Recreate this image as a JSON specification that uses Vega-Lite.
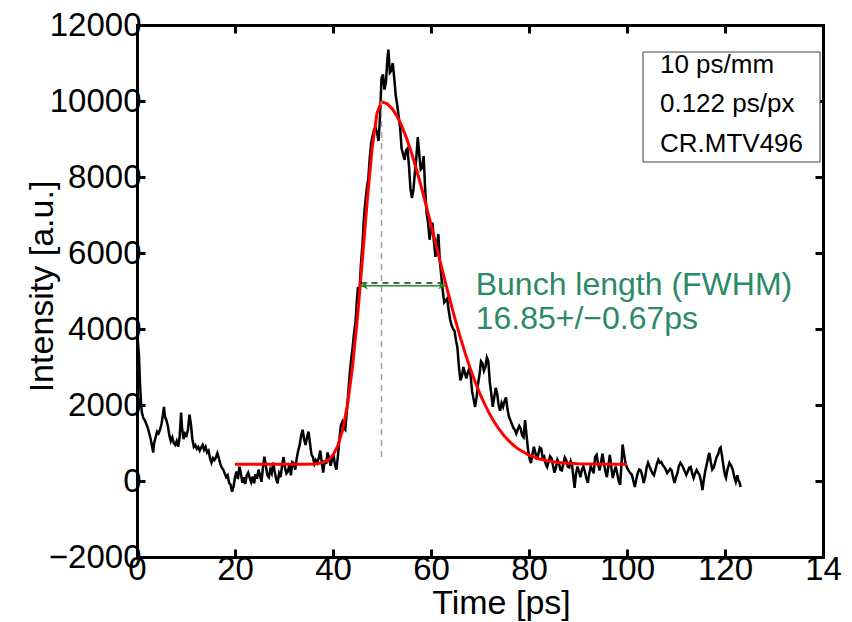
{
  "$schema": "https://vega.github.io/schema/vega-lite/v6.json",
  "width": 686,
  "height": 532,
  "autosize": {"type": "none"},
  "padding": {"left": 137, "top": 25, "right": 29, "bottom": 65},
  "background": "white",
  "config": {
    "view": {"stroke": null},
    "font": "Liberation Sans",
    "axis": {
      "labelFont": "Liberation Sans",
      "titleFont": "Liberation Sans",
      "labelColor": "black",
      "titleColor": "black",
      "domainColor": "black",
      "tickColor": "black",
      "grid": false,
      "domainWidth": 3,
      "domainCap": "square",
      "tickWidth": 3,
      "tickSize": -8,
      "labelFontSize": 33,
      "titleFontSize": 34,
      "titleFontWeight": "normal",
      "labelOverlap": false,
      "labelFlush": false
    }
  },
  "datasets": {
    "trace": [
      {"t":0,"I":3700},{"t":0.2,"I":3650},{"t":0.4,"I":3300},{"t":0.6,"I":2600},{"t":0.8,"I":2100},{"t":1.0,"I":1800},{"t":1.3,"I":1650},{"t":1.6,"I":1600},{"t":1.9,"I":1500},{"t":2.2,"I":1400},{"t":2.5,"I":1250},{"t":2.8,"I":1100},{"t":3.1,"I":900},{"t":3.3,"I":750},{"t":3.5,"I":1000},{"t":3.8,"I":1150},{"t":4.1,"I":1300},{"t":4.4,"I":1250},{"t":4.7,"I":1350},{"t":5.0,"I":1500},{"t":5.3,"I":1750},{"t":5.5,"I":1950},{"t":5.7,"I":1700},{"t":6.0,"I":1600},{"t":6.3,"I":1450},{"t":6.6,"I":1200},{"t":6.9,"I":1050},{"t":7.2,"I":1150},{"t":7.5,"I":1000},{"t":7.8,"I":950},{"t":8.1,"I":1050},{"t":8.4,"I":900},{"t":8.7,"I":1150},{"t":9.0,"I":1800},{"t":9.2,"I":1400},{"t":9.5,"I":1100},{"t":9.8,"I":1250},{"t":10.1,"I":1200},{"t":10.4,"I":1350},{"t":10.7,"I":1750},{"t":11.0,"I":1500},{"t":11.3,"I":1100},{"t":11.6,"I":900},{"t":11.9,"I":950},{"t":12.2,"I":850},{"t":12.5,"I":900},{"t":12.8,"I":800},{"t":13.1,"I":880},{"t":13.4,"I":950},{"t":13.7,"I":820},{"t":14.0,"I":900},{"t":14.3,"I":750},{"t":14.6,"I":800},{"t":14.9,"I":600},{"t":15.2,"I":480},{"t":15.5,"I":600},{"t":15.8,"I":550},{"t":16.1,"I":620},{"t":16.4,"I":730},{"t":16.7,"I":600},{"t":17.0,"I":450},{"t":17.3,"I":350},{"t":17.6,"I":300},{"t":17.9,"I":200},{"t":18.2,"I":100},{"t":18.5,"I":150},{"t":18.8,"I":-50},{"t":19.1,"I":-100},{"t":19.4,"I":-280},{"t":19.7,"I":-150},{"t":20.0,"I":100},{"t":20.3,"I":250},{"t":20.6,"I":50},{"t":20.9,"I":380},{"t":21.2,"I":200},{"t":21.5,"I":-50},{"t":21.8,"I":100},{"t":22.1,"I":-80},{"t":22.4,"I":150},{"t":22.7,"I":220},{"t":23.0,"I":80},{"t":23.3,"I":-30},{"t":23.6,"I":120},{"t":23.9,"I":-60},{"t":24.2,"I":180},{"t":24.5,"I":60},{"t":24.8,"I":300},{"t":25.1,"I":150},{"t":25.4,"I":-20},{"t":25.7,"I":350},{"t":26.0,"I":640},{"t":26.3,"I":400},{"t":26.6,"I":150},{"t":26.9,"I":100},{"t":27.2,"I":300},{"t":27.5,"I":200},{"t":27.8,"I":480},{"t":28.1,"I":250},{"t":28.4,"I":50},{"t":28.7,"I":-60},{"t":29.0,"I":200},{"t":29.3,"I":100},{"t":29.6,"I":400},{"t":29.9,"I":630},{"t":30.2,"I":350},{"t":30.5,"I":200},{"t":30.8,"I":250},{"t":31.1,"I":450},{"t":31.4,"I":150},{"t":31.7,"I":500},{"t":32.0,"I":470},{"t":32.3,"I":300},{"t":32.6,"I":600},{"t":32.9,"I":800},{"t":33.2,"I":950},{"t":33.5,"I":1200},{"t":33.8,"I":1350},{"t":34.1,"I":1100},{"t":34.4,"I":950},{"t":34.7,"I":1150},{"t":35.0,"I":1300},{"t":35.3,"I":1000},{"t":35.6,"I":700},{"t":35.9,"I":630},{"t":36.2,"I":450},{"t":36.5,"I":550},{"t":36.8,"I":480},{"t":37.1,"I":600},{"t":37.4,"I":800},{"t":37.7,"I":500},{"t":38.0,"I":220},{"t":38.3,"I":550},{"t":38.6,"I":450},{"t":38.9,"I":750},{"t":39.2,"I":600},{"t":39.5,"I":400},{"t":39.8,"I":550},{"t":40.1,"I":700},{"t":40.4,"I":420},{"t":40.7,"I":300},{"t":41.0,"I":650},{"t":41.3,"I":1100},{"t":41.6,"I":1450},{"t":41.9,"I":1550},{"t":42.2,"I":1400},{"t":42.5,"I":1350},{"t":42.8,"I":1800},{"t":43.1,"I":2300},{"t":43.4,"I":2800},{"t":43.7,"I":3200},{"t":44.0,"I":3500},{"t":44.3,"I":3900},{"t":44.6,"I":4200},{"t":44.9,"I":4800},{"t":45.1,"I":5100},{"t":45.4,"I":5000},{"t":45.7,"I":5700},{"t":46.0,"I":6200},{"t":46.3,"I":6900},{"t":46.6,"I":7350},{"t":46.9,"I":7700},{"t":47.2,"I":7950},{"t":47.5,"I":8500},{"t":47.8,"I":8900},{"t":48.1,"I":9100},{"t":48.4,"I":9250},{"t":48.7,"I":9300},{"t":49.0,"I":9150},{"t":49.3,"I":8950},{"t":49.6,"I":9600},{"t":49.9,"I":10600},{"t":50.2,"I":10700},{"t":50.5,"I":10300},{"t":50.8,"I":10500},{"t":51.1,"I":11100},{"t":51.3,"I":11350},{"t":51.6,"I":10750},{"t":51.9,"I":10800},{"t":52.2,"I":11000},{"t":52.5,"I":10600},{"t":52.8,"I":10150},{"t":53.1,"I":9900},{"t":53.4,"I":9600},{"t":53.7,"I":9300},{"t":54.0,"I":8750},{"t":54.3,"I":8600},{"t":54.6,"I":8450},{"t":54.9,"I":8700},{"t":55.2,"I":8750},{"t":55.5,"I":8300},{"t":55.8,"I":7700},{"t":56.1,"I":7450},{"t":56.4,"I":7650},{"t":56.7,"I":8100},{"t":57.0,"I":8500},{"t":57.3,"I":9050},{"t":57.6,"I":8600},{"t":57.9,"I":8200},{"t":58.2,"I":8250},{"t":58.5,"I":8550},{"t":58.8,"I":7700},{"t":59.1,"I":7050},{"t":59.4,"I":6800},{"t":59.7,"I":6350},{"t":60.0,"I":6600},{"t":60.3,"I":6800},{"t":60.6,"I":6300},{"t":60.9,"I":5900},{"t":61.2,"I":6200},{"t":61.5,"I":6500},{"t":61.8,"I":5800},{"t":62.1,"I":5400},{"t":62.4,"I":5000},{"t":62.7,"I":4700},{"t":63.0,"I":4750},{"t":63.3,"I":4800},{"t":63.6,"I":4500},{"t":63.9,"I":4250},{"t":64.2,"I":4100},{"t":64.5,"I":4000},{"t":64.8,"I":3950},{"t":65.1,"I":3700},{"t":65.4,"I":3500},{"t":65.7,"I":3000},{"t":66.0,"I":2650},{"t":66.3,"I":2750},{"t":66.6,"I":3000},{"t":66.9,"I":2850},{"t":67.2,"I":2700},{"t":67.5,"I":2850},{"t":67.8,"I":2950},{"t":68.1,"I":2750},{"t":68.4,"I":2350},{"t":68.7,"I":2150},{"t":69.0,"I":1950},{"t":69.3,"I":2200},{"t":69.6,"I":2550},{"t":69.9,"I":2800},{"t":70.2,"I":3150},{"t":70.5,"I":3100},{"t":70.8,"I":2900},{"t":71.1,"I":3000},{"t":71.4,"I":3250},{"t":71.7,"I":3150},{"t":72.0,"I":2600},{"t":72.3,"I":2300},{"t":72.6,"I":1950},{"t":72.9,"I":2200},{"t":73.2,"I":2450},{"t":73.5,"I":2300},{"t":73.8,"I":2000},{"t":74.1,"I":1850},{"t":74.4,"I":2050},{"t":74.7,"I":1950},{"t":75.0,"I":2100},{"t":75.3,"I":2200},{"t":75.6,"I":1900},{"t":75.9,"I":1700},{"t":76.2,"I":1600},{"t":76.5,"I":1500},{"t":76.8,"I":1400},{"t":77.1,"I":1350},{"t":77.4,"I":1250},{"t":77.7,"I":1350},{"t":78.0,"I":1450},{"t":78.3,"I":1380},{"t":78.6,"I":1200},{"t":78.9,"I":1150},{"t":79.2,"I":1600},{"t":79.5,"I":1200},{"t":79.8,"I":820},{"t":80.1,"I":600},{"t":80.4,"I":470},{"t":80.7,"I":700},{"t":81.0,"I":900},{"t":81.3,"I":750},{"t":81.6,"I":560},{"t":81.9,"I":700},{"t":82.2,"I":880},{"t":82.5,"I":850},{"t":82.8,"I":600},{"t":83.1,"I":640},{"t":83.4,"I":450},{"t":83.7,"I":370},{"t":84.0,"I":500},{"t":84.3,"I":650},{"t":84.6,"I":600},{"t":84.9,"I":400},{"t":85.2,"I":220},{"t":85.5,"I":350},{"t":85.8,"I":560},{"t":86.1,"I":480},{"t":86.4,"I":300},{"t":86.7,"I":280},{"t":87.0,"I":450},{"t":87.3,"I":620},{"t":87.6,"I":550},{"t":87.9,"I":380},{"t":88.2,"I":360},{"t":88.5,"I":520},{"t":88.8,"I":400},{"t":89.1,"I":50},{"t":89.3,"I":-180},{"t":89.6,"I":200},{"t":89.9,"I":380},{"t":90.2,"I":250},{"t":90.5,"I":100},{"t":90.8,"I":300},{"t":91.1,"I":380},{"t":91.4,"I":250},{"t":91.7,"I":80},{"t":92.0,"I":-50},{"t":92.3,"I":200},{"t":92.6,"I":380},{"t":92.9,"I":300},{"t":93.2,"I":200},{"t":93.5,"I":640},{"t":93.8,"I":690},{"t":94.1,"I":450},{"t":94.4,"I":280},{"t":94.7,"I":500},{"t":95.0,"I":720},{"t":95.3,"I":450},{"t":95.6,"I":250},{"t":95.9,"I":100},{"t":96.2,"I":400},{"t":96.5,"I":690},{"t":96.8,"I":350},{"t":97.1,"I":80},{"t":97.4,"I":250},{"t":97.7,"I":380},{"t":98.0,"I":200},{"t":98.3,"I":0},{"t":98.6,"I":-100},{"t":98.9,"I":500},{"t":99.1,"I":960},{"t":99.4,"I":700},{"t":99.7,"I":470},{"t":100.0,"I":350},{"t":100.3,"I":280},{"t":100.6,"I":220},{"t":101.0,"I":160},{"t":101.3,"I":0},{"t":101.6,"I":-160},{"t":101.9,"I":50},{"t":102.2,"I":210},{"t":102.5,"I":300},{"t":102.8,"I":280},{"t":103.1,"I":150},{"t":103.4,"I":-50},{"t":103.7,"I":100},{"t":104.0,"I":350},{"t":104.3,"I":480},{"t":104.6,"I":380},{"t":104.9,"I":290},{"t":105.2,"I":200},{"t":105.5,"I":150},{"t":105.8,"I":300},{"t":106.1,"I":450},{"t":106.4,"I":560},{"t":106.7,"I":480},{"t":107.0,"I":500},{"t":107.3,"I":420},{"t":107.6,"I":370},{"t":107.9,"I":300},{"t":108.2,"I":210},{"t":108.5,"I":260},{"t":108.8,"I":320},{"t":109.1,"I":280},{"t":109.4,"I":100},{"t":109.7,"I":-50},{"t":110.0,"I":100},{"t":110.3,"I":210},{"t":110.6,"I":400},{"t":110.9,"I":480},{"t":111.2,"I":420},{"t":111.5,"I":340},{"t":111.8,"I":250},{"t":112.1,"I":160},{"t":112.4,"I":250},{"t":112.7,"I":350},{"t":113.0,"I":370},{"t":113.3,"I":200},{"t":113.6,"I":80},{"t":113.9,"I":200},{"t":114.2,"I":290},{"t":114.5,"I":220},{"t":114.8,"I":160},{"t":115.1,"I":0},{"t":115.4,"I":-240},{"t":115.7,"I":50},{"t":116.0,"I":280},{"t":116.3,"I":450},{"t":116.6,"I":650},{"t":116.8,"I":740},{"t":117.1,"I":500},{"t":117.4,"I":300},{"t":117.7,"I":350},{"t":118.0,"I":500},{"t":118.3,"I":630},{"t":118.6,"I":700},{"t":118.9,"I":850},{"t":119.1,"I":880},{"t":119.4,"I":650},{"t":119.7,"I":380},{"t":120.0,"I":150},{"t":120.2,"I":80},{"t":120.5,"I":300},{"t":120.9,"I":480},{"t":121.2,"I":420},{"t":121.6,"I":290},{"t":121.9,"I":100},{"t":122.2,"I":-20},{"t":122.5,"I":150},{"t":122.7,"I":30},{"t":123.0,"I":-50},{"t":123.2,"I":-160}
    ],
    "fit": [
      {"t":20,"I":440},{"t":25,"I":440},{"t":30,"I":440},{"t":34,"I":440},{"t":36,"I":447},{"t":37,"I":458},{"t":38,"I":487},{"t":39,"I":550},{"t":40,"I":681},{"t":41,"I":928},{"t":42,"I":1357},{"t":43,"I":2038},{"t":44,"I":3023},{"t":45,"I":4314},{"t":46,"I":5831},{"t":47,"I":7398},{"t":48,"I":8771},{"t":49,"I":9695},{"t":49.9,"I":9980},{"t":51,"I":9933},{"t":52,"I":9811},{"t":53,"I":9616},{"t":54,"I":9351},{"t":55,"I":9024},{"t":56,"I":8643},{"t":57,"I":8215},{"t":58,"I":7750},{"t":59,"I":7256},{"t":60,"I":6746},{"t":61,"I":6226},{"t":62,"I":5706},{"t":63,"I":5194},{"t":64,"I":4698},{"t":65,"I":4222},{"t":66,"I":3772},{"t":67,"I":3352},{"t":68,"I":2964},{"t":69,"I":2612},{"t":70,"I":2292},{"t":71,"I":2008},{"t":72,"I":1755},{"t":73,"I":1535},{"t":74,"I":1343},{"t":75,"I":1180},{"t":76,"I":1041},{"t":77,"I":925},{"t":78,"I":827},{"t":80,"I":681},{"t":82,"I":586},{"t":84,"I":525},{"t":86,"I":488},{"t":88,"I":466},{"t":90,"I":454},{"t":93,"I":445},{"t":96,"I":442},{"t":100,"I":440}
    ],
    "peak": [{"t":49.9,"lo":630,"hi":9980}],
    "fwhm": [{"t1":45.6,"t2":63.0,"half":5210,"arrowY":5140,"label":"Bunch length (FWHM)\n16.85+/−0.67ps"}],
    "info": [{"info":"10 ps/mm\n0.122 ps/px\nCR.MTV496"}]
  },
  "resolve": {"scale": {"x": "shared", "y": "shared"}, "axis": {"x": "independent", "y": "independent"}},
  "layer": [
    {
      "data": {"name": "trace"},
      "mark": {"type": "line", "color": "black", "strokeWidth": 2.5},
      "encoding": {
        "x": {"field": "t", "type": "quantitative", "scale": {"domain": [0, 140], "nice": false, "zero": false},
          "axis": {"orient": "bottom", "values": [0,20,40,60,80,100,120,140], "format": "d", "labelExpr": "datum.value == 140 ? '14' : datum.label", "labelPadding": 4, "title": "Time [ps]", "titleX": 364, "titleY": 56, "titleBaseline": "alphabetic", "titleAlign": "center"}},
        "y": {"field": "I", "type": "quantitative", "scale": {"domain": [-2000, 12000], "nice": false, "zero": false},
          "axis": {"orient": "left", "values": [-2000,0,2000,4000,6000,8000,10000,12000], "format": "d", "labelPadding": 4, "title": "Intensity [a.u.]", "titleX": -85, "titleY": 261, "titleAngle": 270, "titleBaseline": "alphabetic", "titleAlign": "center"}}
      }
    },
    {
      "data": {"name": "fit"},
      "mark": {"type": "line", "color": "#ff0000", "strokeWidth": 3},
      "encoding": {
        "x": {"field": "t", "type": "quantitative", "scale": {"domain": [0, 140], "nice": false, "zero": false},
          "axis": {"orient": "top", "values": [0,20,40,60,80,100,120,140], "labels": false, "title": null}},
        "y": {"field": "I", "type": "quantitative", "scale": {"domain": [-2000, 12000], "nice": false, "zero": false},
          "axis": {"orient": "right", "values": [-2000,0,2000,4000,6000,8000,10000,12000], "labels": false, "title": null}}
      }
    },
    {
      "data": {"name": "peak"},
      "mark": {"type": "rule", "color": "#a0a0a0", "strokeWidth": 1.5, "strokeDash": [6, 5]},
      "encoding": {
        "x": {"field": "t", "type": "quantitative", "axis": null},
        "y": {"field": "lo", "type": "quantitative", "axis": null},
        "y2": {"field": "hi"}
      }
    },
    {
      "data": {"name": "fwhm"},
      "mark": {"type": "rule", "color": "#222222", "strokeWidth": 1.5, "strokeDash": [6, 5]},
      "encoding": {
        "x": {"field": "t1", "type": "quantitative", "axis": null},
        "x2": {"field": "t2"},
        "y": {"field": "half", "type": "quantitative", "axis": null}
      }
    },
    {
      "data": {"name": "fwhm"},
      "mark": {"type": "rule", "color": "#1e8c1e", "strokeWidth": 1.5},
      "encoding": {
        "x": {"field": "t1", "type": "quantitative", "axis": null},
        "x2": {"field": "t2"},
        "y": {"field": "arrowY", "type": "quantitative", "axis": null}
      }
    },
    {
      "data": {"name": "fwhm"},
      "mark": {"type": "point", "shape": "M0,0 L1,-0.5 L0.7,0 L1,0.5 Z", "filled": true, "color": "#1e8c1e", "opacity": 1, "size": 230},
      "encoding": {
        "x": {"field": "t1", "type": "quantitative", "axis": null},
        "y": {"field": "arrowY", "type": "quantitative", "axis": null}
      }
    },
    {
      "data": {"name": "fwhm"},
      "mark": {"type": "point", "shape": "M0,0 L-1,-0.5 L-0.7,0 L-1,0.5 Z", "filled": true, "color": "#1e8c1e", "opacity": 1, "size": 230},
      "encoding": {
        "x": {"field": "t2", "type": "quantitative", "axis": null},
        "y": {"field": "arrowY", "type": "quantitative", "axis": null}
      }
    },
    {
      "data": {"name": "fwhm"},
      "mark": {"type": "text", "align": "left", "baseline": "alphabetic", "dx": 30, "dy": 12, "fontSize": 32, "font": "Liberation Sans", "color": "#2b8a66", "lineBreak": "\n", "lineHeight": 34},
      "encoding": {
        "x": {"field": "t2", "type": "quantitative", "axis": null},
        "y": {"field": "half", "type": "quantitative", "axis": null},
        "text": {"field": "label"}
      }
    },
    {
      "data": {"name": "info"},
      "mark": {"type": "rect", "fill": "white", "stroke": "#404040", "strokeWidth": 1},
      "encoding": {
        "x": {"datum": 103.27, "type": "quantitative", "axis": null},
        "x2": {"datum": 139.39},
        "y": {"datum": 11289, "type": "quantitative", "axis": null},
        "y2": {"datum": 8395}
      }
    },
    {
      "data": {"name": "info"},
      "mark": {"type": "text", "align": "left", "baseline": "alphabetic", "fontSize": 26, "font": "Liberation Sans", "color": "black", "lineBreak": "\n", "lineHeight": 39.5},
      "encoding": {
        "x": {"datum": 106.73, "type": "quantitative", "axis": null},
        "y": {"datum": 10737, "type": "quantitative", "axis": null},
        "text": {"field": "info"}
      }
    }
  ]
}
